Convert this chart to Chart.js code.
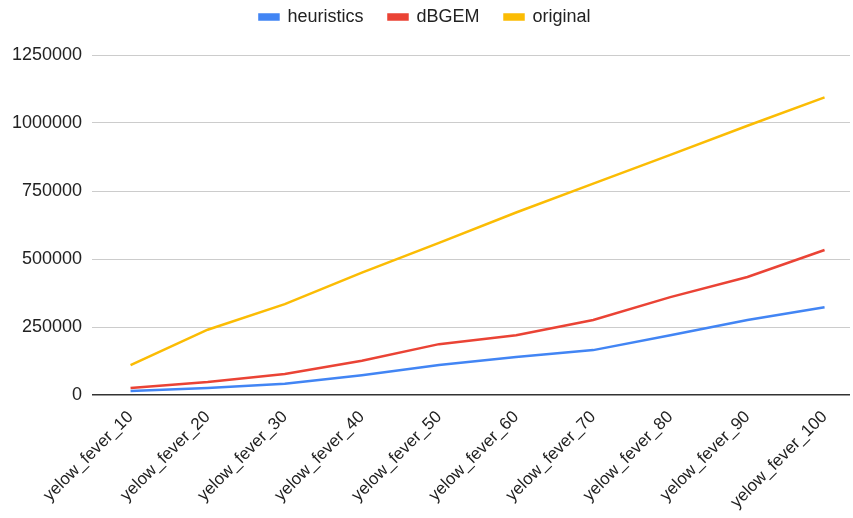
<!DOCTYPE html>
<html>
<head>
<meta charset="utf-8">
<script src="https://cdn.jsdelivr.net/npm/chart.js@4.4.0/dist/chart.umd.min.js"></script>
<style>
  html, body { margin: 0; padding: 0; background: #fff; }
  #wrap { width: 853px; height: 518px; }
</style>
</head>
<body>
<div id="wrap"><canvas id="myChart"></canvas></div>
<script>
var labels = ["yelow_fever_10", "yelow_fever_20", "yelow_fever_30", "yelow_fever_40", "yelow_fever_50",
  "yelow_fever_60", "yelow_fever_70", "yelow_fever_80", "yelow_fever_90", "yelow_fever_100"];
var heuristics = [15000, 26000, 41000, 73000, 110000, 140000, 165000, 220000, 276000, 323000];
var dBGEM = [26000, 48000, 77000, 126000, 187000, 220000, 276000, 360000, 434000, 533000];
var original = [110000, 240000, 334000, 450000, 559000, 671000, 777000, 883000, 990000, 1094000];
var yTicks = [0, 250000, 500000, 750000, 1000000, 1250000];

var FONT = "'Liberation Sans', Arial, sans-serif";

function points(values) {
  return values.map(function (v, i) { return { x: i, y: v }; });
}

// keep the legend row near the top but leave room before the plot
var legendSpace = {
  id: "legendSpace",
  beforeInit: function (chart) {
    var legend = chart.legend;
    if (!legend) return;
    var fit = legend.fit;
    legend.fit = function () {
      fit.call(this);
      this.height = 72;
    };
  }
};

new Chart("myChart", {
  type: "line",
  data: {
    datasets: [{
      label: "heuristics",
      data: points(heuristics),
      borderColor: "#4285F4",
      backgroundColor: "#4285F4"
    }, {
      label: "dBGEM",
      data: points(dBGEM),
      borderColor: "#EA4335",
      backgroundColor: "#EA4335"
    }, {
      label: "original",
      data: points(original),
      borderColor: "#FBBC04",
      backgroundColor: "#FBBC04"
    }]
  },
  plugins: [legendSpace],
  options: {
    responsive: true,
    maintainAspectRatio: false,
    animation: false,
    elements: {
      line: { borderWidth: 2.5, tension: 0 },
      point: { radius: 0 }
    },
    layout: { padding: { left: 0, right: 3, top: -17, bottom: 0 } },
    plugins: {
      legend: {
        position: "top",
        labels: {
          boxWidth: 19,
          boxHeight: 5,
          padding: 25,
          color: "#222",
          font: { family: FONT, size: 18 }
        }
      },
      tooltip: { enabled: false }
    },
    scales: {
      x: {
        type: "linear",
        min: -0.5,
        max: 9.33,
        grid: { display: false },
        border: { display: false },
        afterFit: function (scale) { scale.height = 123; },
        ticks: {
          stepSize: 1,
          includeBounds: false,
          autoSkip: false,
          minRotation: 45,
          maxRotation: 45,
          padding: 4,
          color: "#222",
          font: { family: FONT, size: 17 },
          callback: function (value) {
            return Number.isInteger(value) ? labels[value] : "";
          }
        }
      },
      y: {
        min: 0,
        max: 1250000,
        afterFit: function (scale) { scale.width = 92; },
        afterBuildTicks: function (scale) {
          scale.ticks = yTicks.map(function (v) { return { value: v }; });
        },
        grid: {
          color: function (ctx) { return ctx.tick && ctx.tick.value === 0 ? "#333" : "#ccc"; },
          lineWidth: function (ctx) { return ctx.tick && ctx.tick.value === 0 ? 1.5 : 1; },
          drawTicks: false
        },
        border: { display: false },
        ticks: {
          padding: 10,
          color: "#222",
          font: { family: FONT, size: 18 },
          callback: function (value) { return String(value); }
        }
      }
    }
  }
});
</script>
</body>
</html>
